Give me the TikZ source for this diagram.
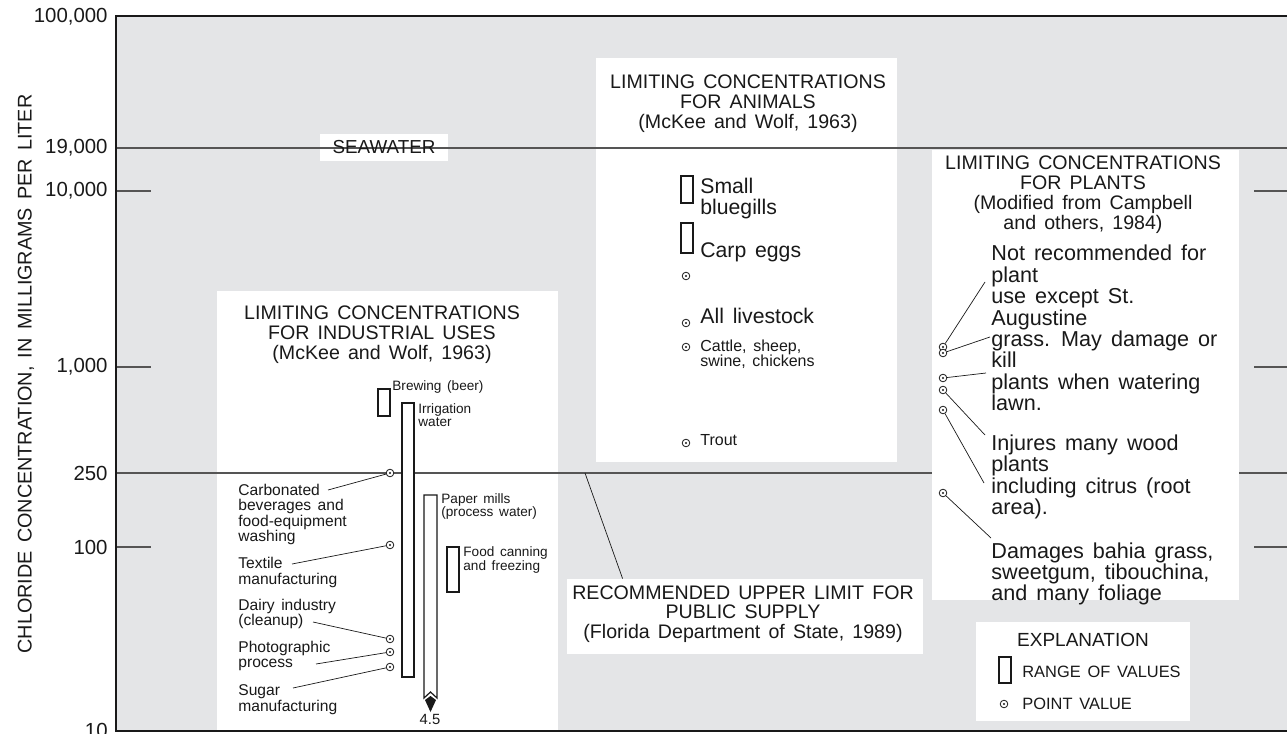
\documentclass[tikz,border=0pt]{standalone}
\usepackage{fontspec}
\setmainfont{Liberation Sans}[WordSpace=1.5]
\usetikzlibrary{arrows.meta}
\definecolor{plotgray}{RGB}{228,229,231}
\definecolor{ink}{RGB}{25,25,25}
\definecolor{rulegray}{RGB}{85,85,85}
\tikzstyle{axisframe} = [draw=ink,line width=1.2pt]
\tikzstyle{limitline} = [draw=rulegray,line width=0.6pt]
\tikzstyle{leader} = [draw=ink,line width=0.35pt]
\tikzstyle{rangebar} = [draw=ink,line width=0.6pt,fill=white,inner sep=0pt,minimum width=6pt]
\tikzstyle{ptval} = [circle,draw=ink,fill=white,line width=0.4pt,inner sep=0pt,minimum size=3.8pt,path picture={\fill[ink] (path picture bounding box.center) circle (0.55pt);}]
\tikzstyle{axlab} = [font=\fontsize{10.2}{10}\selectfont,text=ink,anchor=east,inner sep=0pt]
\tikzstyle{paneltitle} = [font=\fontsize{9.8}{10}\selectfont,text=ink,align=center,inner sep=0pt]
\tikzstyle{indlab} = [font=\fontsize{7.8}{7.8}\selectfont,text=ink,align=left,anchor=west,inner sep=0pt]
\tikzstyle{barlab} = [font=\fontsize{6.8}{6.6}\selectfont,text=ink,align=left,anchor=west,inner sep=0pt]
\tikzstyle{biglab} = [font=\fontsize{10.6}{10.5}\selectfont,text=ink,align=left,anchor=west,inner sep=0pt]
\tikzstyle{smalllab} = [font=\fontsize{8}{7.5}\selectfont,text=ink,align=left,anchor=west,inner sep=0pt]
\tikzstyle{plantlab} = [font=\fontsize{10.8}{10.7}\selectfont,text=ink,align=left,anchor=west,inner sep=0pt]
\tikzstyle{keylab} = [font=\fontsize{8.2}{8.2}\selectfont,text=ink,anchor=west,inner sep=0pt]

\begin{document}
\begin{tikzpicture}[x=0.5pt,y=-0.5pt]
	\useasboundingbox (0,0) rectangle (1287,734);
	\fill[plotgray] (116,16) rectangle (1287,731);
	\fill[white] (217,291) rectangle (558,731);
	\fill[white] (596,58) rectangle (897,462);
	\fill[white] (320,134) rectangle (448,161);

	\draw[limitline] (116,148) -- (1287,148);
	\draw[limitline] (116,473) -- (1287,473);
	\foreach \y in {191,367,547} {
		\draw[limitline] (116,\y) -- (151,\y);
		\draw[limitline] (1254,\y) -- (1287,\y);
	}
	\draw[axisframe] (1287,16) -- (116,16) -- (116,731) -- (1287,731);

	\foreach \y/\lab in {17/{100,000},148/{19,000},191/{10,000},367/{1,000},473/250,547/100,730/10}
		\node[axlab] (ax\y) at (108,\y) {\lab};
	\node[font=\fontsize{9.9}{10}\selectfont,text=ink,rotate=90,inner sep=0pt] (ytitle) at (26,374) {CHLORIDE CONCENTRATION, IN MILLIGRAMS PER LITER};
	\node[font=\fontsize{9.4}{10}\selectfont,text=ink,inner sep=0pt] (sea) at (384,147) {SEAWATER};

	% industrial uses
	\node[paneltitle] (indtitle) at (382,335) {LIMITING CONCENTRATIONS\\FOR INDUSTRIAL USES\\(McKee and Wolf, 1963)};
	\node[rangebar,minimum height=13.5pt] (brew) at (384,402.5) {};
	\node[rangebar,minimum height=137pt] (irrig) at (408,540) {};
	\node[rangebar,minimum height=22.5pt] (food) at (453,569.5) {};
	\draw[draw=ink,line width=0.6pt] (424,698) -- (424,495) -- (437,495) -- (437,698) -- (430.5,692) -- cycle;
	\fill[ink] (425,700) -- (430.5,696) -- (436,700) -- (430.5,712) -- cycle;
	\node[barlab] (brewlab) at (392,387) {Brewing (beer)};
	\node[barlab] (irriglab) at (418,415.5) {Irrigation\\water};
	\node[barlab] (paperlab) at (441,506.5) {Paper mills\\(process water)};
	\node[barlab] (foodlab) at (463,560) {Food canning\\and freezing};
	\node[barlab,anchor=center,font=\fontsize{7.4}{7.4}\selectfont] (paperlow) at (430,719) {4.5};

	\foreach \name/\y in {carb/473,textile/545,dairy/639,photo/652,sugar/667}
		\node[ptval] (p\name) at (390,\y) {};
	\node[indlab] (carb) at (238,514.5) {Carbonated\\beverages and\\food-equipment\\washing};
	\node[indlab] (textile) at (238,572.5) {Textile\\manufacturing};
	\node[indlab] (dairy) at (238,614) {Dairy industry\\(cleanup)};
	\node[indlab] (photo) at (238,656) {Photographic\\process};
	\node[indlab] (sugar) at (238,699.5) {Sugar\\manufacturing};
	\foreach \name/\x/\y in {carb/328/490,textile/292/564,dairy/313/622,photo/316/664,sugar/293/688} {
		\coordinate (l\name) at (\x,\y);
		\draw[leader] (l\name) -- (p\name);
	}

	% animals
	\node[paneltitle] (animtitle) at (748,104) {LIMITING CONCENTRATIONS\\FOR ANIMALS\\(McKee and Wolf, 1963)};
	\node[rangebar,minimum height=13.5pt] (gills) at (687,189.5) {};
	\node[rangebar,minimum height=15pt] (carp) at (687,238) {};
	\node[biglab] (gillslab) at (700,198.5) {Small\\bluegills};
	\node[biglab] (carplab) at (700,252) {Carp eggs};
	\foreach \name/\y in {other/276,stock/323,cattle/347,trout/443}
		\node[ptval] (p\name) at (686,\y) {};
	\node[biglab] (stock) at (700,316) {All livestock};
	\node[smalllab] (cattle) at (700,354.5) {Cattle, sheep,\\swine, chickens};
	\node[smalllab] (trout) at (700,440) {Trout};

	% plants
	\fill[white] (932,150) rectangle (1239,600);
	\node[paneltitle] (planttitle) at (1083,195) {LIMITING CONCENTRATIONS\\FOR PLANTS\\(Modified from Campbell\\and others, 1984)};
	\node[plantlab] (notrec) at (991,328) {Not recommended for\\plant\\use except St.\\Augustine\\grass. May damage or\\kill\\plants when watering\\lawn.};
	\node[plantlab] (injures) at (991,477) {Injures many wood\\plants\\including citrus (root\\area).};
	\node[plantlab] (damages) at (991,574) {Damages bahia grass,\\sweetgum, tibouchina,\\and many foliage};
	\foreach \name/\y in {a/347,b/353,c/378,d/390,e/410,f/493}
		\node[ptval] (q\name) at (943,\y) {};
	\foreach \name/\x/\y in {a/985/282,b/990/337,c/986/373,d/985/435,e/984/483,f/991/538} {
		\coordinate (m\name) at (\x,\y);
		\draw[leader] (m\name) -- (q\name);
	}

	% public supply
	\node[fill=white,minimum width=178pt,minimum height=37.5pt,inner sep=0pt] (recbox) at (745,616.5) {};
	\node[font=\fontsize{9.8}{9.8}\selectfont,text=ink,align=center,inner sep=0pt] (rec) at (743,614) {RECOMMENDED UPPER LIMIT FOR\\PUBLIC SUPPLY\\(Florida Department of State, 1989)};
	\coordinate (recl) at (585,473);
	\draw[leader] (recl) -- ([xshift=28pt]recbox.north west);

	% explanation
	\node[fill=white,minimum width=107pt,minimum height=49.5pt,inner sep=0pt] (keybox) at (1083,671.5) {};
	\node[font=\fontsize{9.5}{10}\selectfont,text=ink,inner sep=0pt] (keytitle) at (1083,640) {EXPLANATION};
	\node[rangebar,minimum height=13pt] (keybar) at (1005,670) {};
	\node[keylab] (keyrange) at (1022,672) {RANGE OF VALUES};
	\node[ptval] (keypt) at (1004,704) {};
	\node[keylab] (keypoint) at (1022,704) {POINT VALUE};
\end{tikzpicture}
\end{document}
